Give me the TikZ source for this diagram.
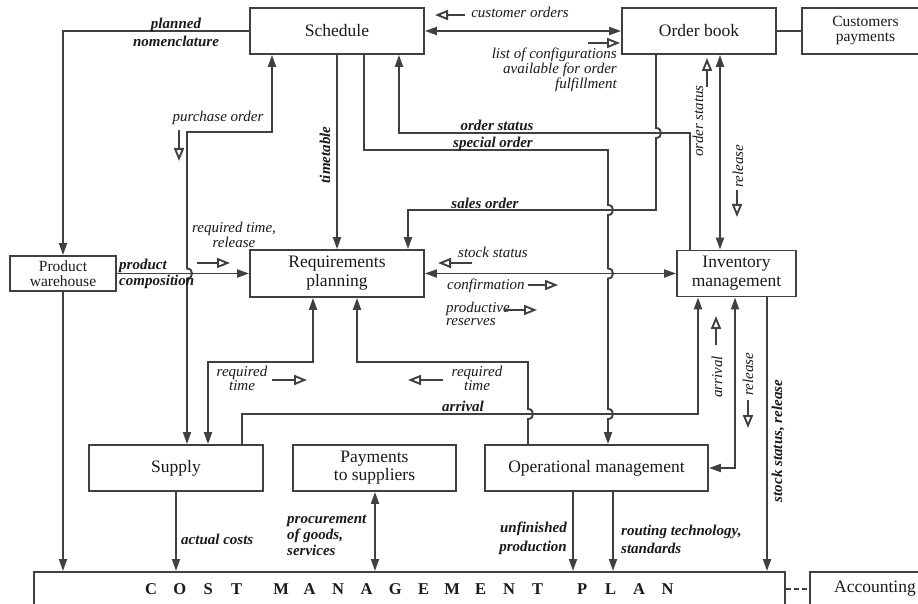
\documentclass[tikz,border=0pt]{standalone}
\usepackage{fontspec}
\setmainfont{Liberation Serif}
\usetikzlibrary{arrows.meta}
\definecolor{ln}{HTML}{404040}
\definecolor{tx}{HTML}{1A1A1A}
\newcommand{\cmpl}[1]{\makebox[28.5pt]{#1}}
\begin{document}
\begin{tikzpicture}[x=1pt,y=-1pt,
  box/.style={draw=ln, line width=1.9pt, inner sep=0pt, align=center, text=tx,
    font=\fontsize{17.5}{19}\selectfont},
  conn/.style={draw=ln, line width=1.9pt},
  >={Triangle[length=12pt,width=8pt]},
  hol/.style={draw=ln, line width=1.9pt, -{Triangle[open,length=13pt,width=10pt,fill=white]}},
  il/.style={font=\fontsize{15}{#1}\selectfont\itshape, text=tx, inner sep=0pt},
  il/.default=13,
  bl/.style={font=\fontsize{15}{#1}\selectfont\bfseries\itshape, text=tx, inner sep=0pt},
  bl/.default=13]
\useasboundingbox (0,0) rectangle (918,604);
\clip (0,0) rectangle (918,604);
\fill[white] (0,0) rectangle (918,604);

% boxes
\node[box, minimum width=174pt, minimum height=46pt] (sched) at (337,31) {Schedule};
\node[box, minimum width=154pt, minimum height=46pt] (obook) at (699,31) {Order book};
\node[box, minimum width=127pt, minimum height=46pt, anchor=west,
  font=\fontsize{15.5}{15}\selectfont] (cpay) at (801,31) {Customers\\payments};
\node[box, minimum width=106pt, minimum height=35pt,
  font=\fontsize{15.5}{15}\selectfont] (pw) at (63,273.5) {Product\\warehouse};
\node[box, minimum width=174pt, minimum height=47pt] (rp) at (337,273.5) {Requirements\\planning};
\node[box, minimum width=119pt, minimum height=46pt] (inv) at (736.5,273.5) {Inventory\\management};
\node[box, minimum width=174pt, minimum height=46pt] (sup) at (176,468) {Supply};
\node[box, minimum width=163pt, minimum height=46pt,
  font=\fontsize{17.5}{18}\selectfont] (pay) at (374.5,468) {Payments\\to suppliers};
\node[box, minimum width=223pt, minimum height=46pt] (op) at (596.5,468) {Operational management};
\node[box, anchor=north west, minimum width=751pt, minimum height=34pt,
  font=\fontsize{16.5}{18}\selectfont\bfseries] (cmp) at (33,571)
  {\cmpl{C}\cmpl{O}\cmpl{S}\cmpl{T}\hspace{16pt}\cmpl{M}\cmpl{A}\cmpl{N}\cmpl{A}\cmpl{G}\cmpl{E}\cmpl{M}\cmpl{E}\cmpl{N}\cmpl{T}\hspace{16pt}\cmpl{P}\cmpl{L}\cmpl{A}\cmpl{N}};
\node[box, anchor=north west, minimum width=130pt, minimum height=34pt] (acc) at (809,571) {Accounting};

% connectors
\draw[conn,->] (sched.west) -| (pw.north);
\draw[conn,->] (pw.south) -- (pw.south |- cmp.north);
\draw[conn,->] (pw.east) -- (rp.west);
\draw[conn,<->] (sched.south -| 272,0) -- (272,132) -- (187,132) -- (187,268.5)
  .. controls (193.7,268.5) and (193.7,278.5) .. (187,278.5) -- (sup.north -| 187,0);
\draw[conn,<->] (sup.north -| 208,0) -- (208,362) -- (313,362) -- (rp.south -| 313,0);
\draw[conn,->] (op.north -| 528,0) -- (528,419)
  .. controls (534.7,419) and (534.7,409) .. (528,409) -- (528,362) -- (357,362) -- (rp.south -| 357,0);
\draw[conn,->] (sup.north -| 242,0) -- (242,414) -- (698,414) -- (inv.south -| 698,0);
\draw[conn,<->] (inv.south -| 735,0) |- (op.east);
\draw[conn,->] (inv.south -| 767,0) -- (cmp.north -| 767,0);
\draw[conn,->] (sched.south) -- (rp.north);
\draw[conn,->] (sched.south -| 364,0) -- (364,150) -- (608,150) -- (608,205)
  .. controls (614.7,205) and (614.7,215) .. (608,215) -- (608,268.5)
  .. controls (614.7,268.5) and (614.7,278.5) .. (608,278.5) -- (608,409)
  .. controls (614.7,409) and (614.7,419) .. (608,419) -- (op.north -| 608,0);
\draw[conn,->] (inv.north -| 690,0) -- (690,133) -- (399,133) -- (sched.south -| 399,0);
\draw[conn,->] (obook.south -| 656,0) -- (656,128)
  .. controls (662.7,128) and (662.7,138) .. (656,138) -- (656,210) -- (408,210) -- (rp.north -| 408,0);
\draw[conn,<->] (inv.west) -- (rp.east);
\draw[conn,<->] (obook.south -| 720,0) -- (inv.north -| 720,0);
\draw[conn,<->] (sched.east) -- (obook.west);
\draw[conn] (obook.east) -- (cpay.west);
\draw[conn,->] (sup.south) -- (sup.south |- cmp.north);
\draw[conn,<->] (pay.south -| 375,0) -- (cmp.north -| 375,0);
\draw[conn,->] (op.south -| 573,0) -- (cmp.north -| 573,0);
\draw[conn,->] (op.south -| 613,0) -- (cmp.north -| 613,0);
\draw[conn,dash pattern=on 5pt off 3pt] (cmp.east) -- (acc.west);

% labels
\node[bl=18, align=center] (lpn) at (176,32) {planned\\nomenclature};
\node[bl=16, align=left, anchor=west] (lpc) at (119,274) {product\\composition};
\node[il] (lpo) at (218,118) {purchase order};
\draw[hol] (179,130) -- (179,161);
\node[il=12, align=center] (lrtr) at (234,235) {required time,\\release};
\draw[hol] (197,263) -- (230,263);
\node[il=11.5, align=center] (lrt1) at (242,378) {required\\time};
\draw[hol] (272,380) -- (307,380);
\node[il=11.5, align=center] (lrt2) at (477,378) {required\\time};
\draw[hol] (443,380) -- (408,380);
\node[bl, rotate=90] (ltt) at (325,155) {timetable};
\node[il] (lco) at (520,12) {customer orders};
\draw[hol] (465,15) -- (435,15);
\node[il=13, align=right, anchor=east] (llc) at (617,70) {list of configurations\\available for order\\fulfillment};
\draw[hol] (588,43) -- (620,43);
\node[bl] (los) at (497,125) {order status};
\node[bl] (lso) at (493,144) {special order};
\node[bl] (lsa) at (485,203) {sales order};
\node[il] (lss) at (493,252) {stock status};
\draw[hol] (472,263) -- (438,263);
\node[il, anchor=west] (lcf) at (447,286) {confirmation};
\draw[hol] (528,285) -- (558,285);
\node[il=13.5, align=left, anchor=west] (lpr) at (446,314) {productive\\reserves};
\draw[hol] (505,310) -- (537,310);
\node[il, rotate=90] (los2) at (698,121) {order status};
\draw[hol] (707,87) -- (707,58);
\node[il, rotate=90] (lrel1) at (738,166) {release};
\draw[hol] (737,190) -- (737,217);
\node[bl] (larr) at (463,406) {arrival};
\node[il, rotate=90] (larr2) at (717,377) {arrival};
\draw[hol] (716,345) -- (716,316);
\node[il, rotate=90] (lrel2) at (748,374) {release};
\draw[hol] (748,400) -- (748,428);
\node[bl, rotate=90] (lssr) at (778,441) {stock status, release};
\node[bl, anchor=west] (lac) at (181,539) {actual costs};
\node[bl=16, align=left, anchor=west] (lpg) at (287,535) {procurement\\of goods,\\services};
\node[bl=19, align=right, anchor=east] (luf) at (567,538) {unfinished\\production};
\node[bl=18, align=left, anchor=west] (lrts) at (621,539) {routing technology,\\standards};
\end{tikzpicture}
\end{document}
